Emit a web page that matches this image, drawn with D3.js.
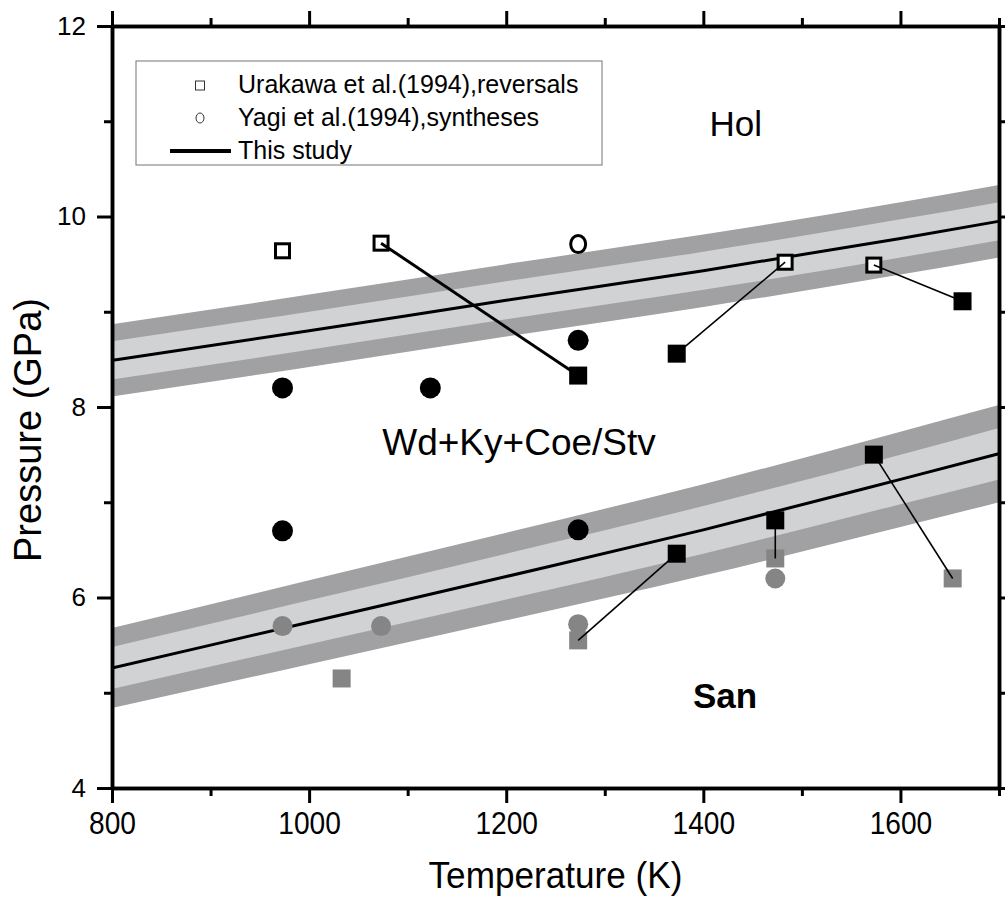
<!DOCTYPE html>
<html>
<head>
<meta charset="utf-8">
<title>Wd+Ky+Coe/Stv phase boundaries</title>
<script src="https://d3js.org/d3.v7.min.js"></script>
<style>
  body { margin: 0; background: #fff; }
  svg { display: block; font-family: Arial, "Liberation Sans", sans-serif; }
</style>
</head>
<body>
<script>
// boundary curves (This study) with their uncertainty bands
var curveT = [800, 1000, 1200, 1400, 1600, 1700];
var upperP = [8.49, 8.80, 9.12, 9.43, 9.77, 9.95];
var upperOuter = [0.38, 0.38, 0.38, 0.38, 0.38, 0.38];
var upperInner = [0.20, 0.20, 0.20, 0.20, 0.20, 0.20];
var lowerP = [5.26, 5.74, 6.22, 6.71, 7.24, 7.51];
var lowerOuter = [0.42, 0.44, 0.46, 0.48, 0.50, 0.51];
var lowerInner = [0.22, 0.23, 0.24, 0.25, 0.26, 0.27];

// Urakawa et al. (1994) reversals
var openSquares = [[973, 9.64], [1073, 9.72], [1483, 9.52], [1573, 9.49]];
var blackSquares = [[1273, 8.33], [1373, 8.56], [1663, 9.11], [1373, 6.46], [1473, 6.81], [1573, 7.50]];
var graySquares = [[1033, 5.15], [1273, 5.55], [1473, 6.41], [1653, 6.20]];
// Yagi et al. (1994) syntheses
var openCircles = [[1273, 9.71]];
var blackCircles = [[973, 8.20], [1123, 8.20], [1273, 8.70], [973, 6.70], [1273, 6.71]];
var grayCircles = [[973, 5.70], [1073, 5.70], [1273, 5.72], [1473, 6.20]];
// reversal pairs joined by a line
var links = [
  [[1073, 9.72], [1273, 8.33], 3],
  [[1483, 9.52], [1373, 8.56], 1.6],
  [[1573, 9.49], [1663, 9.11], 1.6],
  [[1273, 5.55], [1373, 6.46], 1.6],
  [[1473, 6.41], [1473, 6.81], 1.6],
  [[1653, 6.20], [1573, 7.50], 1.6]
];

var xMajor = [800, 1000, 1200, 1400, 1600];
var xMinor = [900, 1100, 1300, 1500, 1700];
var yMajor = [4, 6, 8, 10, 12];
var yMinor = [5, 7, 9, 11];

var legendItems = ["Urakawa et al.(1994),reversals", "Yagi et al.(1994),syntheses", "This study"];
var fieldLabels = [
  {text: "Hol", T: 1433, P: 10.85, size: 35, weight: "normal"},
  {text: "Wd+Ky+Coe/Stv", T: 1213, P: 7.50, size: 37, weight: "normal"},
  {text: "San", T: 1422, P: 4.84, size: 35, weight: "bold"}
];

var W = 1005, H = 904;
var mLeft = 112, mRight = 999, mTop = 26, mBottom = 788;
var darkBand = "#a1a1a4", lightBand = "#d1d2d4", grayMark = "#858585";

var x = d3.scaleLinear().domain([800, 1700]).range([mLeft, mRight]);
var y = d3.scaleLinear().domain([4, 12]).range([mBottom, mTop]);

var svg = d3.select("body").append("svg")
  .attr("width", W).attr("height", H);

svg.append("defs").append("clipPath").attr("id", "plotclip")
  .append("rect").attr("x", mLeft).attr("y", mTop)
  .attr("width", mRight - mLeft).attr("height", mBottom - mTop);

var plot = svg.append("g").attr("clip-path", "url(#plotclip)");

function bandArea(P, half) {
  return d3.area()
    .curve(d3.curveMonotoneX)
    .x(function (d, i) { return x(curveT[i]); })
    .y0(function (d, i) { return y(P[i] - half[i]); })
    .y1(function (d, i) { return y(P[i] + half[i]); })(curveT);
}
var curveLine = d3.line()
  .curve(d3.curveMonotoneX)
  .x(function (d, i) { return x(curveT[i]); })
  .y(function (d) { return y(d); });

[[upperP, upperOuter, upperInner], [lowerP, lowerOuter, lowerInner]].forEach(function (c) {
  plot.append("path").attr("d", bandArea(c[0], c[1])).attr("fill", darkBand);
  plot.append("path").attr("d", bandArea(c[0], c[2])).attr("fill", lightBand);
});
[upperP, lowerP].forEach(function (P) {
  plot.append("path").attr("d", curveLine(P))
    .attr("fill", "none").attr("stroke", "#000").attr("stroke-width", 3);
});

// open markers
plot.selectAll(".osq").data(openSquares).enter().append("rect")
  .attr("x", function (d) { return x(d[0]) - 7; })
  .attr("y", function (d) { return y(d[1]) - 7; })
  .attr("width", 14).attr("height", 14)
  .attr("fill", "#fff").attr("stroke", "#000").attr("stroke-width", 3);
plot.selectAll(".ocir").data(openCircles).enter().append("ellipse")
  .attr("cx", function (d) { return x(d[0]); })
  .attr("cy", function (d) { return y(d[1]); })
  .attr("rx", 7.5).attr("ry", 8.5)
  .attr("fill", "#fff").attr("stroke", "#000").attr("stroke-width", 3);

// gray markers
plot.selectAll(".gcir").data(grayCircles).enter().append("circle")
  .attr("cx", function (d) { return x(d[0]); })
  .attr("cy", function (d) { return y(d[1]); })
  .attr("r", 10).attr("fill", grayMark);
plot.selectAll(".gsq").data(graySquares).enter().append("rect")
  .attr("x", function (d) { return x(d[0]) - 9; })
  .attr("y", function (d) { return y(d[1]) - 9; })
  .attr("width", 18).attr("height", 18).attr("fill", grayMark);

// connecting lines
plot.selectAll(".link").data(links).enter().append("line")
  .attr("x1", function (d) { return x(d[0][0]); })
  .attr("y1", function (d) { return y(d[0][1]); })
  .attr("x2", function (d) { return x(d[1][0]); })
  .attr("y2", function (d) { return y(d[1][1]); })
  .attr("stroke", "#000")
  .attr("stroke-width", function (d) { return d[2]; });

// black markers
plot.selectAll(".bsq").data(blackSquares).enter().append("rect")
  .attr("x", function (d) { return x(d[0]) - 9; })
  .attr("y", function (d) { return y(d[1]) - 9; })
  .attr("width", 18).attr("height", 18).attr("fill", "#000");
plot.selectAll(".bcir").data(blackCircles).enter().append("circle")
  .attr("cx", function (d) { return x(d[0]); })
  .attr("cy", function (d) { return y(d[1]); })
  .attr("r", 10.5).attr("fill", "#000");

// field labels
svg.selectAll(".field").data(fieldLabels).enter().append("text")
  .attr("x", function (d) { return x(d.T); })
  .attr("y", function (d) { return y(d.P); })
  .attr("text-anchor", "middle")
  .attr("font-size", function (d) { return d.size; })
  .attr("font-weight", function (d) { return d.weight; })
  .text(function (d) { return d.text; });

// axes
function styleAxis(g) {
  g.select(".domain").attr("stroke-width", 3.5);
  g.selectAll(".tick line").attr("stroke-width", 3);
}
var xAxis = svg.append("g").attr("transform", "translate(0," + mBottom + ")")
  .call(d3.axisBottom(x).tickValues(xMajor).tickSize(15).tickSizeOuter(0).tickPadding(8).tickFormat(d3.format("d")));
xAxis.selectAll("text").attr("font-size", 32).attr("transform", "scale(0.88,1)").attr("fill", "#000");
styleAxis(xAxis);
svg.append("g").attr("transform", "translate(0," + mBottom + ")")
  .call(d3.axisBottom(x).tickValues(xMinor).tickSize(8).tickSizeOuter(0).tickFormat(""))
  .call(styleAxis);

svg.append("g").attr("transform", "translate(0," + mTop + ")")
  .call(d3.axisTop(x).tickValues(xMajor).tickSize(15).tickSizeOuter(0).tickFormat(""))
  .call(styleAxis);
svg.append("g").attr("transform", "translate(0," + mTop + ")")
  .call(d3.axisTop(x).tickValues(xMinor).tickSize(8).tickSizeOuter(0).tickFormat(""))
  .call(styleAxis);

var yAxis = svg.append("g").attr("transform", "translate(" + mLeft + ",0)")
  .call(d3.axisLeft(y).tickValues(yMajor).tickSize(15).tickSizeOuter(0).tickPadding(11));
yAxis.selectAll("text").attr("font-size", 26).attr("fill", "#000");
styleAxis(yAxis);
svg.append("g").attr("transform", "translate(" + mLeft + ",0)")
  .call(d3.axisLeft(y).tickValues(yMinor).tickSize(8).tickSizeOuter(0).tickFormat(""))
  .call(styleAxis);

svg.append("g").attr("transform", "translate(" + mRight + ",0)")
  .call(d3.axisRight(y).tickValues(yMajor).tickSize(15).tickSizeOuter(0).tickFormat(""))
  .call(styleAxis);
svg.append("g").attr("transform", "translate(" + mRight + ",0)")
  .call(d3.axisRight(y).tickValues(yMinor).tickSize(8).tickSizeOuter(0).tickFormat(""))
  .call(styleAxis);

// axis titles
var cx = (mLeft + mRight) / 2;
svg.append("text")
  .attr("x", cx).attr("y", 888)
  .attr("text-anchor", "middle").attr("font-size", 37)
  .attr("transform", "translate(" + cx + ",0) scale(0.95,1) translate(" + (-cx) + ",0)")
  .text("Temperature (K)");
svg.append("text")
  .attr("transform", "translate(41,430) rotate(-90)")
  .attr("text-anchor", "middle").attr("font-size", 38)
  .text("Pressure (GPa)");

// legend
var lg = svg.append("g");
lg.append("rect").attr("x", 136).attr("y", 61).attr("width", 466).attr("height", 104)
  .attr("fill", "#fff").attr("stroke", "#8a8a8a").attr("stroke-width", 1.2);
var rowY = [93, 126, 159];
lg.selectAll(".ltxt").data(legendItems).enter().append("text")
  .attr("x", 238).attr("y", function (d, i) { return rowY[i]; })
  .attr("font-size", 25).text(function (d) { return d; });
lg.append("rect").attr("x", 195.5).attr("y", rowY[0] - 12).attr("width", 9).attr("height", 9)
  .attr("fill", "#fff").attr("stroke", "#333").attr("stroke-width", 1);
lg.append("ellipse").attr("cx", 200).attr("cy", rowY[1] - 8).attr("rx", 4).attr("ry", 5)
  .attr("fill", "#fff").attr("stroke", "#333").attr("stroke-width", 1);
lg.append("line").attr("x1", 170).attr("x2", 231).attr("y1", rowY[2] - 8).attr("y2", rowY[2] - 8)
  .attr("stroke", "#000").attr("stroke-width", 4);
</script>
</body>
</html>
